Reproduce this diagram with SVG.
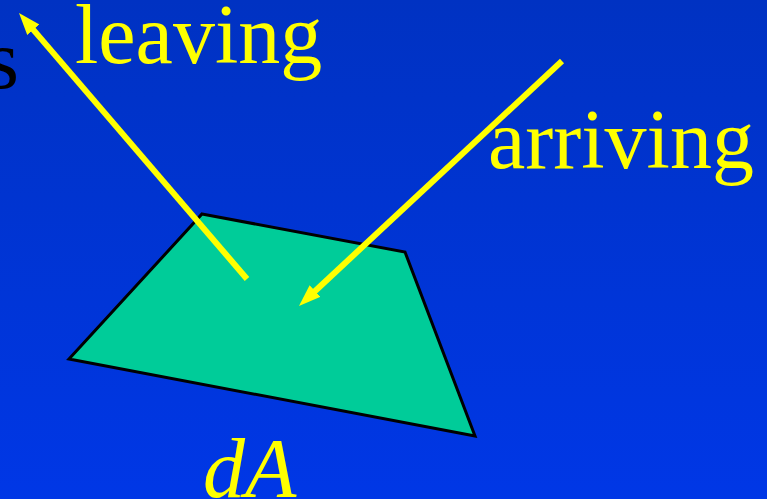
<svg xmlns="http://www.w3.org/2000/svg" width="767" height="499" viewBox="0 0 767 499">
<defs>
<linearGradient id="bg" x1="0" y1="0" x2="0" y2="1">
<stop offset="0" stop-color="#0032C2"/>
<stop offset="1" stop-color="#0037E6"/>
</linearGradient>
<marker id="ah" markerWidth="22" markerHeight="16" refX="12" refY="8" orient="auto" markerUnits="userSpaceOnUse">
<path d="M0,0 L22,8 L0,16 Z" fill="#FFFF00"/>
</marker>
<style>
.lbl{font-family:"Liberation Serif","Times New Roman",serif;font-size:84px;fill:#FFFF00}
.ray{stroke:#FFFF00;stroke-width:6;fill:none}
</style>
</defs>
<rect width="767" height="499" fill="url(#bg)"/>
<text x="19" y="88" class="lbl" style="fill:#000" text-anchor="end">s</text>
<g id="surface">
<polygon points="202,214 405,252 475,436 69,359" fill="#00CC99" stroke="#000" stroke-width="3" stroke-linejoin="miter"/>
</g>
<g id="connectors">
<line class="ray" x1="247" y1="279" x2="25.5" y2="20.6" marker-end="url(#ah)"/>
<line class="ray" x1="562" y1="61" x2="306.3" y2="299.2" marker-end="url(#ah)"/>
</g>
<g id="label-leaving"><text x="75" y="63" class="lbl">leaving</text></g>
<g id="label-arriving"><text x="488" y="168" class="lbl">arriving</text></g>
<g id="label-dA"><text x="203" y="497" class="lbl" font-style="italic">dA</text></g>
</svg>
